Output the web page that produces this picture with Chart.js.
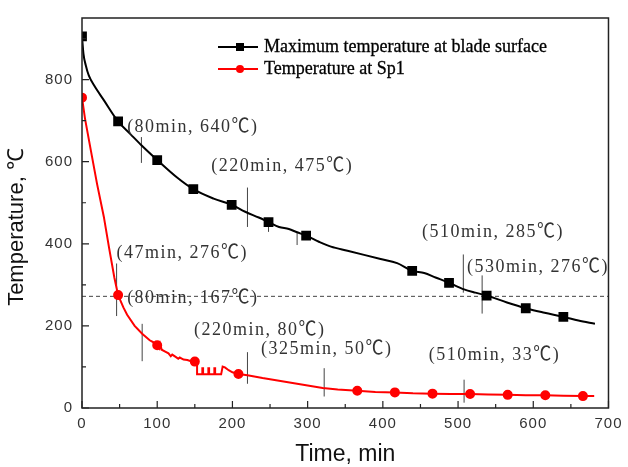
<!DOCTYPE html>
<html>
<head>
<meta charset="utf-8">
<script src="https://cdn.jsdelivr.net/npm/chart.js@4.4.0/dist/chart.umd.min.js"></script>
<style>
body { margin: 0; background: #fff; }
canvas { display: block; }
</style>
</head>
<body>
<canvas id="chart" width="628" height="467"></canvas>
<script>
// black curve: maximum temperature at blade surface
const blackTime = [0, 2, 5, 9, 16, 29, 48, 65, 79, 100, 126, 148, 175, 199, 217, 235, 248, 262, 275, 286, 298, 315, 331, 353, 375, 397, 419, 439, 455, 470, 488, 508, 523, 538, 565, 590, 615, 640, 660, 682];
const blackTemp = [905, 862, 835, 810, 786, 750, 698, 666, 640, 604, 562, 533, 510, 495, 478, 464, 453, 441, 436, 428, 420, 405, 393, 383, 373, 363, 353, 334, 329, 318, 305, 289, 281, 274, 257, 243, 232, 222, 213, 205];
const blackMarks = [0, 48, 100, 148, 199, 248, 298, 439, 488, 538, 590, 640];

// red curve: temperature at Sp1
const redTime = [0, 4, 12, 20, 29, 36, 43, 48, 55, 60, 70, 80, 90, 95, 97, 100, 103, 104, 106, 110, 115, 118, 120, 125, 128, 130, 135, 140, 145, 150, 153, 153, 160, 160, 161, 161, 168, 168, 169, 169, 176, 176, 177, 177, 185, 187, 190, 195, 200, 208, 220, 240, 260, 280, 300, 320, 340, 366, 390, 416, 440, 466, 490, 516, 540, 566, 590, 616, 640, 666, 681];
const redTemp = [756, 705, 625, 546, 466, 390, 318, 275, 245, 227, 200, 181, 165, 160, 150, 153, 145, 155, 142, 138, 133, 126, 130, 124, 120, 123, 118, 117, 114, 113, 108, 82, 82, 97, 97, 82, 82, 97, 97, 82, 82, 97, 97, 82, 82, 101, 99, 92, 87, 83, 80, 73, 67, 61, 55, 49, 45, 42, 39, 38, 36, 35, 34, 34, 33, 32, 31, 31, 30, 29, 29];
const redMarks = [0, 48, 100, 150, 208, 366, 416, 466, 516, 566, 616, 666];

// dashed reference level
const refLevel = 272;

// short vertical marker lines
const segT  = [79, 220, 248, 286, 507, 532, 46, 80, 220, 322, 508];
const segLo = [597, 441, 429, 397, 281, 230, 224, 114, 59, 28, 13];
const segHi = [660, 537, 457, 429, 374, 323, 352, 205, 136, 97, 69];

// annotations (left edge at annoT, centred on annoV)
const annoText = ['(80min, 640℃)', '(220min, 475℃)', '(47min, 276℃)', '(80min, 167℃)', '(220min, 80℃)', '(325min, 50℃)', '(510min, 33℃)', '(510min, 285℃)', '(530min, 276℃)'];
const annoT = [60, 172, 46, 60, 149, 238, 461, 452, 512];
const annoV = [686, 590, 379, 268, 191, 145, 129, 429, 345];

// axes
const xTicks = [0, 100, 200, 300, 400, 500, 600, 700];
const xMinor = [50, 150, 250, 350, 450, 550, 650];
const yTicks = [0, 200, 400, 600, 800];
const yMinor = [100, 300, 500, 700, 900];
const legendLabels = ['Maximum temperature at blade surface', 'Temperature at Sp1'];

function pts(xs, ys) { return xs.map((x, i) => ({ x: x, y: ys[i] })); }

const segData = [];
segT.forEach((t, i) => {
    segData.push({ x: t, y: segLo[i] }, { x: t, y: segHi[i] }, { x: t, y: null });
});

const extras = {
    id: 'extras',
    beforeDraw(chart) { chart.ctx.letterSpacing = '1px'; },
    beforeDatasetsDraw(chart) { chart.ctx.letterSpacing = '0px'; },
    afterDatasetsDraw(chart) {
        const ctx = chart.ctx, a = chart.chartArea, xs = chart.scales.x, ys = chart.scales.y;
        ctx.save();
        // frame
        ctx.strokeStyle = '#222';
        ctx.lineWidth = 1.5;
        ctx.strokeRect(a.left, a.top, a.right - a.left, a.bottom - a.top);
        // inward ticks
        ctx.lineWidth = 1.2;
        ctx.beginPath();
        xTicks.forEach(v => { const p = xs.getPixelForValue(v); ctx.moveTo(p, a.bottom); ctx.lineTo(p, a.bottom - 7); });
        xMinor.forEach(v => { const p = xs.getPixelForValue(v); ctx.moveTo(p, a.bottom); ctx.lineTo(p, a.bottom - 4); });
        yTicks.forEach(v => { const p = ys.getPixelForValue(v); ctx.moveTo(a.left, p); ctx.lineTo(a.left + 7, p); });
        yMinor.forEach(v => { const p = ys.getPixelForValue(v); ctx.moveTo(a.left, p); ctx.lineTo(a.left + 4, p); });
        ctx.stroke();

        // annotations: serif digits spaced out like the original
        ctx.fillStyle = '#333';
        ctx.font = "18px 'Liberation Serif', 'Noto Sans CJK SC', serif";
        ctx.letterSpacing = '1.5px';
        ctx.textAlign = 'left';
        ctx.textBaseline = 'middle';
        annoText.forEach((s, i) => {
            ctx.save();
            ctx.translate(xs.getPixelForValue(annoT[i]), ys.getPixelForValue(annoV[i]));
            ctx.scale(1, 1.1);
            ctx.fillText(s, 0, 0);
            ctx.restore();
        });
        ctx.letterSpacing = '0px';

        // legend
        const colors = ['#000', '#ff0000'];
        const rows = [47, 69];
        ctx.font = "18px 'Liberation Serif', serif";
        legendLabels.forEach((lab, i) => {
            ctx.strokeStyle = colors[i];
            ctx.fillStyle = colors[i];
            ctx.lineWidth = 2;
            ctx.beginPath();
            ctx.moveTo(218, rows[i]);
            ctx.lineTo(258, rows[i]);
            ctx.stroke();
            if (i === 0) {
                ctx.fillRect(236, rows[i] - 4, 8, 8);
            } else {
                ctx.beginPath();
                ctx.arc(240, rows[i], 4, 0, Math.PI * 2);
                ctx.fill();
            }
            ctx.fillStyle = '#000';
            ctx.strokeStyle = '#000';
            ctx.lineWidth = 0.3;
            ctx.fillText(lab, 264, rows[i]);
            ctx.strokeText(lab, 264, rows[i]);
        });

        // axis titles
        ctx.fillStyle = '#111';
        ctx.font = "23px 'Liberation Sans', Arial, sans-serif";
        ctx.textAlign = 'center';
        ctx.fillText('Time, min', (a.left + a.right) / 2, 455);
        ctx.translate(17, 227);
        ctx.rotate(-Math.PI / 2);
        ctx.font = "22px 'Liberation Sans', Arial, sans-serif";
        ctx.fillText('Temperature, ℃', 0, 0);
        ctx.restore();
    }
};

const ctx = document.getElementById('chart').getContext('2d');

new Chart(ctx, {
    type: 'line',
    data: {
        datasets: [
            {
                label: legendLabels[1],
                data: pts(redTime, redTemp),
                borderColor: '#ff0000',
                backgroundColor: '#ff0000',
                borderWidth: 2,
                pointStyle: 'circle',
                pointRadius: redTime.map(t => redMarks.includes(t) ? 4 : 0),
                pointHoverRadius: 0,
                tension: 0,
                order: 0
            },
            {
                label: legendLabels[0],
                data: pts(blackTime, blackTemp),
                borderColor: '#000',
                backgroundColor: '#000',
                borderWidth: 2,
                pointStyle: 'rect',
                pointRadius: blackTime.map(t => blackMarks.includes(t) ? 5.5 : 0),
                pointHoverRadius: 0,
                cubicInterpolationMode: 'monotone',
                order: 1
            },
            {
                label: 'marks',
                data: segData,
                borderColor: '#444',
                borderWidth: 1,
                pointRadius: 0,
                spanGaps: false,
                order: 2
            },
            {
                label: 'ref',
                data: [{ x: 0, y: refLevel }, { x: 700, y: refLevel }],
                borderColor: '#444',
                borderWidth: 1,
                borderDash: [4, 3],
                pointRadius: 0,
                order: 3
            }
        ]
    },
    options: {
        responsive: false,
        animation: false,
        layout: { padding: { top: 14, right: 15, left: 0, bottom: 0 } },
        plugins: { legend: { display: false }, tooltip: { enabled: false } },
        scales: {
            x: {
                type: 'linear',
                min: 0,
                max: 700,
                afterBuildTicks: s => { s.ticks = xTicks.map(v => ({ value: v })); },
                afterFit: s => { s.height = 59; },
                grid: { display: false, drawTicks: false },
                border: { display: false },
                ticks: { autoSkip: false, maxRotation: 0, padding: 7, color: '#333', font: { family: "'Liberation Sans', Arial, sans-serif", size: 15 } }
            },
            y: {
                type: 'linear',
                min: 0,
                max: 950,
                afterBuildTicks: s => { s.ticks = yTicks.map(v => ({ value: v })); },
                afterFit: s => { s.width = 82; },
                grid: { display: false, drawTicks: false },
                border: { display: false },
                ticks: { autoSkip: false, padding: 9, color: '#333', font: { family: "'Liberation Sans', Arial, sans-serif", size: 15 } }
            }
        }
    },
    plugins: [extras]
});
</script>
</body>
</html>
